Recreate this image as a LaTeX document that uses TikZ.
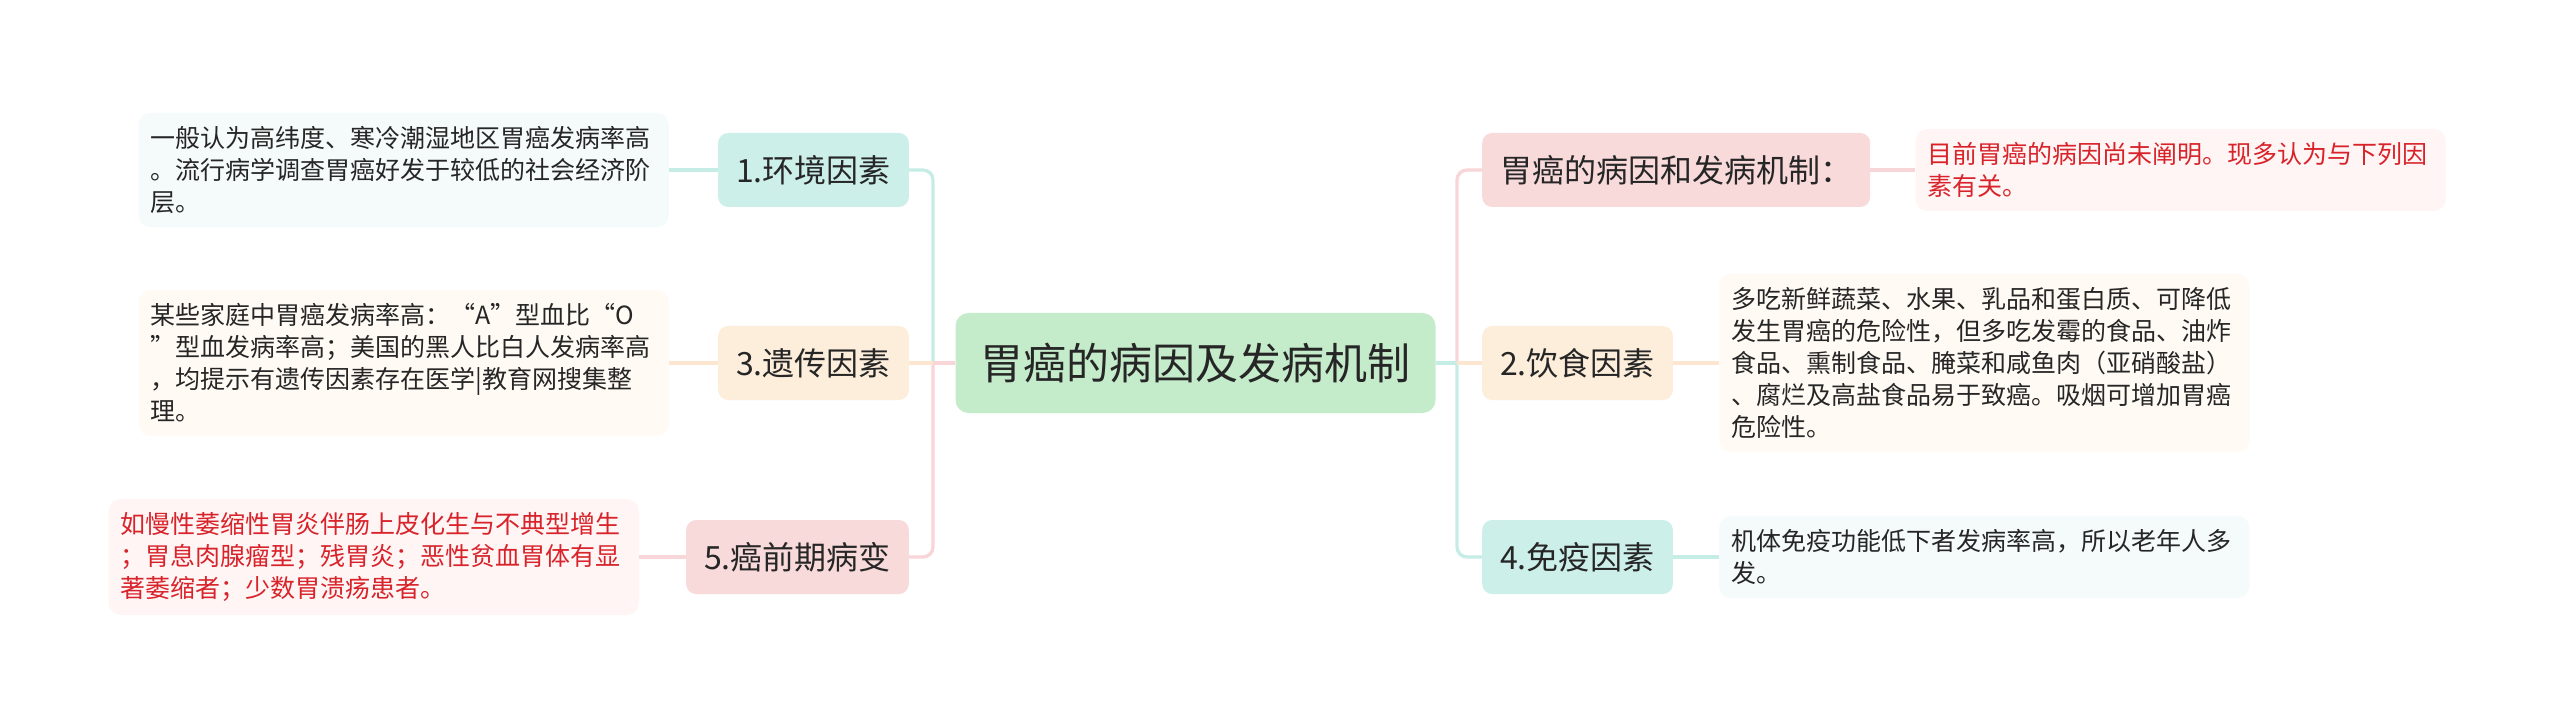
\documentclass[tikz,border=0pt]{standalone}
\usepackage{fontspec}
\setmainfont{Noto Sans CJK SC}
\usetikzlibrary{positioning}

\definecolor{inkgray}{HTML}{262626}
\definecolor{inkred}{HTML}{D8232A}
\definecolor{rootfill}{HTML}{C4EBCA}
\definecolor{tealfill}{HTML}{CCEFE9}
\definecolor{peachfill}{HTML}{FDEEDC}
\definecolor{pinkfill}{HTML}{F9DADB}
\definecolor{tealpale}{HTML}{F4FBFA}
\definecolor{peachpale}{HTML}{FFFAF4}
\definecolor{pinkpale}{HTML}{FFF5F5}
\definecolor{tealline}{HTML}{C5EDE6}
\definecolor{peachline}{HTML}{FCE6D0}
\definecolor{pinkline}{HTML}{F8D5D6}

\begin{document}
\begin{tikzpicture}[x=1pt, y=-1pt,
  every node/.style={text=inkgray},
  rootbox/.style={fill=rootfill, rounded corners=13pt, minimum height=100pt,
    inner xsep=25pt, font=\fontsize{43}{50}\selectfont},
  topicbox/.style={fill=#1, rounded corners=10pt, minimum height=74pt,
    inner xsep=18pt, font=\fontsize{32}{36}\selectfont},
  notebox/.style={fill=#1, rounded corners=12pt, text width=506pt,
    inner xsep=12pt, inner ysep=13.5pt, align=left,
    font=\fontsize{25}{32}\selectfont},
  branch/.style={draw=#1, line width=3.3pt, rounded corners=10pt}]

  %% canvas
  \fill[white] (0,0) rectangle (2560,727);

  %% central topic
  \node[rootbox] (root) at (1195.5,363) {胃癌的病因及发病机制};

  %% left topics
  \node[topicbox=tealfill, anchor=east] (env) at (909,170) {1.环境因素};
  \node[topicbox=peachfill, anchor=east] (gene) at (909,363) {3.遗传因素};
  \node[topicbox=pinkfill, anchor=east] (pre) at (909,557) {5.癌前期病变};

  %% right topics
  \node[topicbox=pinkfill, anchor=west] (cause) at (1482,170) {胃癌的病因和发病机制：};
  \node[topicbox=peachfill, anchor=west] (diet) at (1482,363) {2.饮食因素};
  \node[topicbox=tealfill, anchor=west] (immu) at (1482,557) {4.免疫因素};

  %% notes
  \node[notebox=tealpale, left=49pt of env] (envnote)
    {一般认为高纬度、寒冷潮湿地区胃癌发病率高\\。流行病学调查胃癌好发于较低的社会经济阶\\层。};
  \node[notebox=peachpale, left=49pt of gene] (genenote)
    {某些家庭中胃癌发病率高：“A”型血比“O\\”型血发病率高；美国的黑人比白人发病率高\\，均提示有遗传因素存在医学|教育网搜集整\\理。};
  \node[notebox=pinkpale, text=inkred, left=47pt of pre] (prenote)
    {如慢性萎缩性胃炎伴肠上皮化生与不典型增生\\；胃息肉腺瘤型；残胃炎；恶性贫血胃体有显\\著萎缩者；少数胃溃疡患者。};
  \node[notebox=pinkpale, text=inkred, right=45pt of cause] (causenote)
    {目前胃癌的病因尚未阐明。现多认为与下列因\\素有关。};
  \node[notebox=peachpale, right=46pt of diet] (dietnote)
    {多吃新鲜蔬菜、水果、乳品和蛋白质、可降低\\发生胃癌的危险性，但多吃发霉的食品、油炸\\食品、熏制食品、腌菜和咸鱼肉（亚硝酸盐）\\、腐烂及高盐食品易于致癌。吸烟可增加胃癌\\危险性。};
  \node[notebox=tealpale, right=46pt of immu] (immunote)
    {机体免疫功能低下者发病率高，所以老年人多\\发。};

  %% trunks
  \coordinate (ltrunk) at (933,363);
  \coordinate (rtrunk) at (1457,363);

  %% left branches
  \draw[branch=tealline] (ltrunk) |- (env.east);
  \draw[branch=pinkline] (ltrunk) |- (pre.east);
  \draw[branch=pinkline] (root.west) -- (ltrunk);
  \draw[branch=peachline] (ltrunk) -- (gene.east);

  %% right branches
  \draw[branch=pinkline] (rtrunk) |- (cause.west);
  \draw[branch=tealline] (rtrunk) |- (immu.west);
  \draw[branch=tealline] (root.east) -- (rtrunk);
  \draw[branch=peachline] (rtrunk) -- (diet.west);

  %% topic to note
  \draw[branch=tealline] (env.west) -- (envnote.east);
  \draw[branch=peachline] (gene.west) -- (genenote.east);
  \draw[branch=pinkline] (pre.west) -- (prenote.east);
  \draw[branch=pinkline] (cause.east) -- (causenote.west);
  \draw[branch=peachline] (diet.east) -- (dietnote.west);
  \draw[branch=tealline] (immu.east) -- (immunote.west);
\end{tikzpicture}
\end{document}
